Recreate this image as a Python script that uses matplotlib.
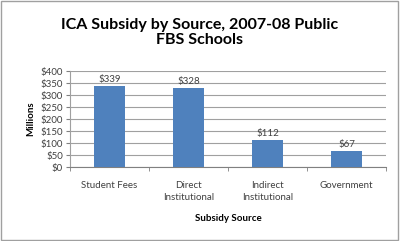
import matplotlib.pyplot as plt
import numpy as np

categories = ["Student Fees", "Direct\nInstitutional", "Indirect\nInstitutional", "Government"]
values = [339, 328, 112, 67]
yticks = [0, 50, 100, 150, 200, 250, 300, 350, 400]

plt.rcParams['font.family'] = ['Lato', 'DejaVu Sans']

fig = plt.figure(figsize=(4, 2.41), dpi=100)
fig.patches.append(plt.Rectangle((0.002, 0.004), 0.994, 0.99, transform=fig.transFigure,
                                 fill=False, edgecolor='#a0a0a0', linewidth=1))
ax = fig.add_axes([0.175, 0.307, 0.79, 0.398])

x = np.arange(len(categories))
ax.bar(x, values, width=0.4, color='#4F81BD', zorder=3)
for xi, v in zip(x, values):
    ax.text(xi, v + 8, f"${v}", ha='center', va='bottom', fontsize=7, color='#404040')

ax.set_xlim(-0.5, len(categories) - 0.5)
ax.set_ylim(0, 400)
ax.set_yticks(yticks)
ax.set_yticklabels([f"${t}" for t in yticks], fontsize=7, color='#404040')
ax.yaxis.grid(True, color='#a0a0a0', linewidth=0.8, zorder=0)
ax.set_xticks(x)
ax.set_xticklabels(categories, fontsize=7, color='#404040', linespacing=1.5)
ax.tick_params(axis='x', length=0, pad=10)
ax.set_xticks(np.arange(-0.5, len(categories)), minor=True)
ax.tick_params(axis='x', which='minor', length=3, color='#808080')
ax.tick_params(axis='y', length=3, color='#808080', pad=2)
for s in ['top', 'right']:
    ax.spines[s].set_visible(False)
ax.spines['left'].set_color('#a0a0a0')
ax.spines['bottom'].set_color('#808080')

ax.set_ylabel("Millions", fontsize=7, fontweight='bold', labelpad=4)
ax.set_xlabel("Subsidy Source", fontsize=7, fontweight='bold', labelpad=8)
fig.text(0.5, 0.865, "ICA Subsidy by Source, 2007-08 Public\nFBS Schools", ha='center', va='center',
         fontsize=11.5, fontweight='bold', linespacing=1.15)

fig.savefig("out.png", dpi=100)
